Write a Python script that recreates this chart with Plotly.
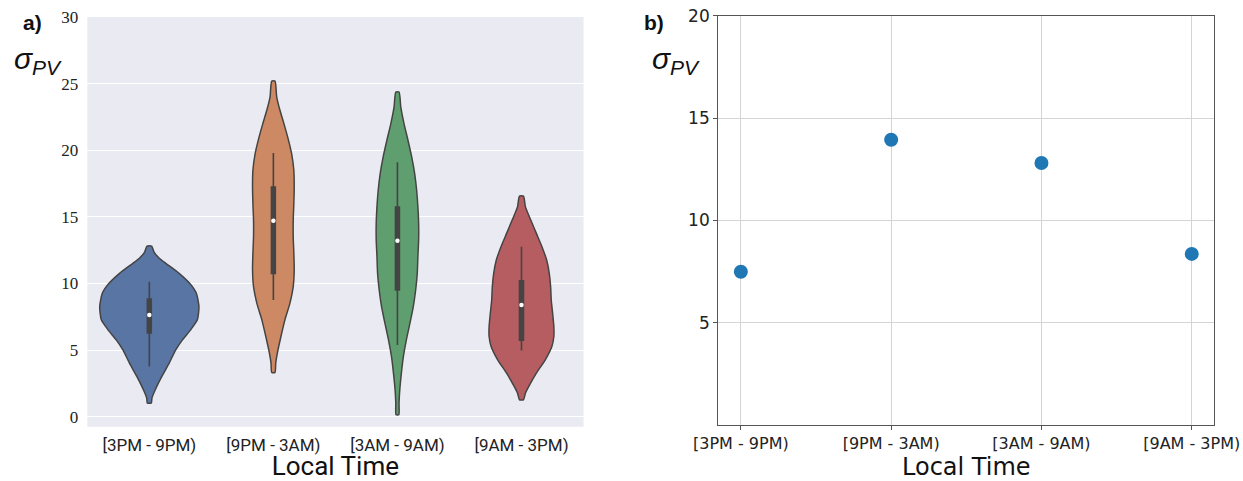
import plotly.graph_objects as go

W, H = 1243, 481

categories = ["[3PM - 9PM)", "[9PM - 3AM)", "[3AM - 9AM)", "[9AM - 3PM)"]

# violin outlines read from panel a): value levels and half-widths (category units)
blue_y = [12.81, 12.38, 11.89, 11.51, 10.76, 10.01, 9.26, 8.26, 7.27, 6.52, 5.77, 5.02, 4.02, 3.02, 2.02, 1.40, 1.03]
blue_hw = [0.019, 0.037, 0.080, 0.133, 0.240, 0.325, 0.379, 0.400, 0.387, 0.333, 0.267, 0.213, 0.160, 0.101, 0.048, 0.021, 0.016]

orange_y = [25.19, 23.99, 23.0, 22.0, 21.0, 19.75, 18.5, 17.25, 16.0, 14.76, 13.51, 12.26, 11.01, 9.76, 8.51, 7.27, 6.02, 4.77, 4.02, 3.32]
orange_hw = [0.013, 0.027, 0.053, 0.085, 0.115, 0.147, 0.165, 0.168, 0.165, 0.160, 0.160, 0.165, 0.168, 0.160, 0.133, 0.093, 0.061, 0.032, 0.019, 0.013]

green_y = [24.37, 23.25, 22.0, 20.75, 19.5, 18.25, 17.0, 15.75, 14.5, 13.26, 12.01, 10.76, 9.51, 8.26, 7.02, 5.77, 4.52, 3.27, 2.02, 1.02, 0.15]
green_hw = [0.013, 0.027, 0.053, 0.085, 0.115, 0.139, 0.155, 0.165, 0.171, 0.171, 0.165, 0.160, 0.147, 0.128, 0.101, 0.072, 0.048, 0.032, 0.019, 0.013, 0.011]

red_y = [16.55, 15.75, 14.76, 13.76, 12.76, 11.76, 10.76, 9.76, 8.76, 7.77, 6.77, 6.02, 5.27, 4.27, 3.27, 2.27, 1.77, 1.27]
red_hw = [0.016, 0.032, 0.075, 0.120, 0.165, 0.203, 0.224, 0.235, 0.240, 0.251, 0.261, 0.261, 0.245, 0.192, 0.120, 0.059, 0.032, 0.016]

# inner box statistics
whisker_lo = [3.77, 8.76, 5.39, 4.97]
q1 = [6.22, 10.7, 9.46, 5.69]
median = [7.64, 14.7, 13.2, 8.39]
q3 = [8.89, 17.3, 15.8, 10.26]
whisker_hi = [10.13, 19.8, 19.1, 12.76]

# panel b) values
sigma_pv = [7.49, 13.94, 12.80, 8.36]

violin_colors = ["#5975A4", "#CC8963", "#5F9E6E", "#B55D60"]
profiles = [(blue_y, blue_hw), (orange_y, orange_hw), (green_y, green_hw), (red_y, red_hw)]

EDGE = "#444444"

fig = go.Figure()

for i, ((ys, hws), col) in enumerate(zip(profiles, violin_colors)):
    xs = [i + h for h in hws] + [i - h for h in reversed(hws)]
    yy = list(ys) + list(reversed(ys))
    xs.append(xs[0])
    yy.append(yy[0])
    fig.add_trace(go.Scatter(
        x=xs, y=yy, mode="lines", fill="toself", fillcolor=col,
        line=dict(color=EDGE, width=1.5, shape="spline", smoothing=0.6),
        xaxis="x", yaxis="y", showlegend=False, hoverinfo="skip"))
    # whisker
    fig.add_trace(go.Scatter(
        x=[i, i], y=[whisker_lo[i], whisker_hi[i]], mode="lines",
        line=dict(color=EDGE, width=1.6), xaxis="x", yaxis="y",
        showlegend=False, hoverinfo="skip"))
    # box
    fig.add_trace(go.Scatter(
        x=[i, i], y=[q1[i], q3[i]], mode="lines",
        line=dict(color=EDGE, width=5.5), xaxis="x", yaxis="y",
        showlegend=False, hoverinfo="skip"))

# medians
fig.add_trace(go.Scatter(
    x=list(range(len(categories))), y=median, mode="markers",
    marker=dict(color="white", size=4.5, line=dict(width=0)),
    xaxis="x", yaxis="y", showlegend=False, hoverinfo="skip"))

# panel b)
fig.add_trace(go.Scatter(
    x=list(range(len(categories))), y=sigma_pv, mode="markers",
    marker=dict(color="#1f77b4", size=14, line=dict(width=0)),
    xaxis="x2", yaxis="y2", showlegend=False))

ax_l = [87.3 / W, 583.5 / W]
ay_l = [1 - 426.7 / H, 1 - 17.0 / H]
ax_r = [718.3 / W, 1214.3 / W]
ay_r = [1 - 425.0 / H, 1 - 15.7 / H]

fig.update_layout(
    width=W, height=H, autosize=False,
    margin=dict(l=0, r=0, t=0, b=0, pad=0),
    paper_bgcolor="white", plot_bgcolor="rgba(0,0,0,0)",
    showlegend=False,
    xaxis=dict(
        domain=ax_l, range=[-0.5, 3.5], tickmode="array", automargin=False,
        tickvals=list(range(len(categories))), ticktext=categories,
        showgrid=False, zeroline=False, showline=False, ticks="",
        ticklabelstandoff=6,
        tickfont=dict(family="Roboto", size=17, color="#222222"),
        title=dict(text="Local Time", font=dict(family="Roboto", size=26, color="#111111"), standoff=6),
        anchor="y"),
    yaxis=dict(
        domain=ay_l, range=[-0.75, 30], tickmode="array", automargin=False,
        tickvals=[0, 5, 10, 15, 20, 25, 30],
        showgrid=True, gridcolor="white", gridwidth=1, zeroline=False,
        showline=False, ticks="", ticklabelstandoff=8,
        tickfont=dict(family="Liberation Serif", size=17, color="#222222"),
        anchor="x"),
    xaxis2=dict(
        domain=ax_r, range=[-0.15, 3.15], tickmode="array", automargin=False,
        tickvals=list(range(len(categories))), ticktext=categories,
        showgrid=True, gridcolor="#d4d4d4", gridwidth=1, zeroline=False,
        showline=True, mirror=True, linecolor="#555555", linewidth=1.3,
        ticks="outside", ticklen=4, tickcolor="#555555",
        tickfont=dict(family="DejaVu Sans", size=16, color="#222222"),
        title=dict(text="Local Time", font=dict(family="DejaVu Sans", size=24, color="#111111"), standoff=4),
        anchor="y2"),
    yaxis2=dict(
        domain=ay_r, range=[0, 20], tickmode="array", automargin=False,
        tickvals=[5, 10, 15, 20],
        showgrid=True, gridcolor="#d4d4d4", gridwidth=1, zeroline=False,
        showline=True, mirror=True, linecolor="#555555", linewidth=1.3,
        ticks="outside", ticklen=4, tickcolor="#555555",
        tickfont=dict(family="DejaVu Sans", size=17, color="#222222"),
        anchor="x2"),
    shapes=[dict(type="rect", xref="x domain", yref="y domain", x0=0, x1=1, y0=0, y1=1,
                 fillcolor="#EAEAF2", line=dict(width=0), layer="below")],
    annotations=[
        dict(text="<b>a)</b>", x=21 / W, y=1 - 22 / H, xref="paper", yref="paper",
             xanchor="left", yanchor="middle", showarrow=False,
             font=dict(family="Liberation Sans", size=21, color="#111111")),
        dict(text="<i>σ<sub>PV</sub></i>", x=12 / W, y=1 - 60 / H, xref="paper", yref="paper",
             xanchor="left", yanchor="middle", showarrow=False,
             font=dict(family="Liberation Sans", size=30, color="#111111")),
        dict(text="<b>b)</b>", x=642 / W, y=1 - 22 / H, xref="paper", yref="paper",
             xanchor="left", yanchor="middle", showarrow=False,
             font=dict(family="Liberation Sans", size=21, color="#111111")),
        dict(text="<i>σ<sub>PV</sub></i>", x=650 / W, y=1 - 60 / H, xref="paper", yref="paper",
             xanchor="left", yanchor="middle", showarrow=False,
             font=dict(family="Liberation Sans", size=30, color="#111111")),
    ],
)

fig.write_html("out.html", config={"displayModeBar": False},
               post_script="document.body.style.margin='0';document.body.style.overflow='hidden';")
